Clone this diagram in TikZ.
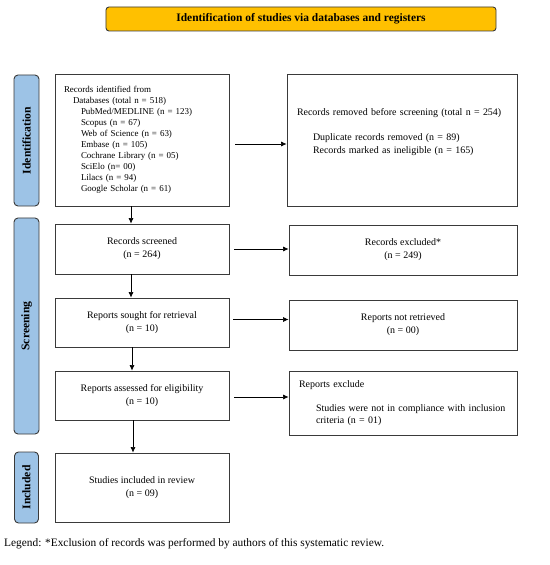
\documentclass[tikz,border=0pt]{standalone}
\usepackage{fontspec}
\setmainfont{Liberation Serif}
\usetikzlibrary{arrows.meta}
\definecolor{bannerfill}{HTML}{FFC000}
\definecolor{labelfill}{HTML}{9DC3E6}
\definecolor{edge}{HTML}{3A3A3A}
\tikzset{
  box/.style={draw=edge, line width=0.9bp, fill=white, rectangle, inner sep=0pt, align=center,
    font=\fontsize{10}{13}\selectfont},
  sidelabel/.style={draw=edge, line width=0.9bp, fill=labelfill, rounded corners=4bp, rotate=90,
    inner sep=0pt, font=\fontsize{11.7}{13}\selectfont\bfseries},
  arr/.style={-{Latex[length=5.5bp,width=5bp]}, line width=0.6bp, black},
}
\begin{document}
\begin{tikzpicture}[x=1bp,y=-1bp]
\useasboundingbox (0,0) rectangle (550,565);
\fill[white] (0,0) rectangle (550,565);

\node[draw=edge, line width=0.9bp, fill=bannerfill, rounded corners=3bp, minimum width=390bp, minimum height=24bp,
  inner sep=0pt, font=\fontsize{11.5}{13}\selectfont\bfseries] (banner) at (301,19)
  {Identification of studies via databases and registers};

\node[sidelabel, minimum width=131bp, minimum height=25bp] (lab1) at (26.5,140.5) {Identification};
\node[sidelabel, minimum width=216bp, minimum height=25bp] (lab2) at (26.5,326) {Screening};
\node[sidelabel, minimum width=71bp, minimum height=24bp] (lab3) at (26.5,487.5) {Included};

\node[box, minimum width=174bp, minimum height=132bp, text width=156bp, align=left,
  font=\fontsize{9}{11.1}\selectfont] (b1) at (142,140)
  {Records identified from\\
   \hspace*{9bp}Databases (total n = 518)\\
   \hspace*{17bp}PubMed/MEDLINE (n = 123)\\
   \hspace*{17bp}Scopus (n = 67)\\
   \hspace*{17bp}Web of Science (n = 63)\\
   \hspace*{17bp}Embase (n = 105)\\
   \hspace*{17bp}Cochrane Library (n = 05)\\
   \hspace*{17bp}SciElo (n= 00)\\
   \hspace*{17bp}Lilacs (n = 94)\\
   \hspace*{17bp}Google Scholar (n = 61)};

\node[box, minimum width=230bp, minimum height=132bp, text width=210bp, align=left,
  font=\fontsize{10}{12.7}\selectfont] (b2) at (402,140)
  {Records removed before screening (total n = 254)\\[12.7bp]
   \hspace*{16bp}Duplicate records removed (n = 89)\\
   \hspace*{16bp}Records marked as ineligible (n = 165)\\[6bp]\mbox{}};

\node[box, minimum width=174bp, minimum height=50bp] (b3) at (142,249)
  {Records screened\\(n = 264)};
\node[box, minimum width=228bp, minimum height=50bp] (b4) at (403,250)
  {Records excluded*\\(n = 249)};

\node[box, minimum width=174bp, minimum height=49bp] (b5) at (142,322.5)
  {Reports sought for retrieval\\(n = 10)};
\node[box, minimum width=228bp, minimum height=50bp] (b6) at (403,325)
  {Reports not retrieved\\(n = 00)};

\node[box, minimum width=174bp, minimum height=49bp] (b7) at (142,395.5)
  {Reports assessed for eligibility\\(n = 10)};
\node[box, minimum width=228bp, minimum height=64bp, text width=208bp, align=left,
  font=\fontsize{10}{12}\selectfont] (b8) at (403,403)
  {Reports exclude\\[12bp]
   \hspace*{17bp}Studies were not in compliance with inclusion\\
   \hspace*{17bp}criteria (n = 01)};

\node[box, minimum width=174bp, minimum height=69bp] (b9) at (142,487.5)
  {Studies included in review\\(n = 09)};

\node[anchor=west, inner sep=0pt, font=\fontsize{11.4}{13}\selectfont] (legend) at (4,544)
  {Legend: *Exclusion of records was performed by authors of this systematic review.};

% horizontal arrows
\draw[arr, shorten <=6bp] ([yshift=-4bp]b1.east) -- ([yshift=-4bp]b1.east -| b2.west);
\draw[arr, shorten <=5bp] (b3.east) -- (b3.east -| b4.west);
\draw[arr, shorten <=4bp] ([yshift=3bp]b5.east) -- ([yshift=3bp]b5.east -| b6.west);
\draw[arr, shorten <=5bp] ([yshift=-1.5bp]b7.east) -- ([yshift=-1.5bp]b7.east -| b8.west);

% vertical arrows
\draw[arr] ([xshift=-11bp]b1.south) -- ([xshift=-11bp]b1.south |- b3.north);
\draw[arr] ([xshift=-11bp]b3.south) -- ([xshift=-11bp]b3.south |- b5.north);
\draw[arr] ([xshift=-10bp]b5.south) -- ([xshift=-10bp]b5.south |- b7.north);
\draw[arr] ([xshift=-9bp]b7.south) -- ([xshift=-9bp]b7.south |- b9.north);
\end{tikzpicture}
\end{document}
